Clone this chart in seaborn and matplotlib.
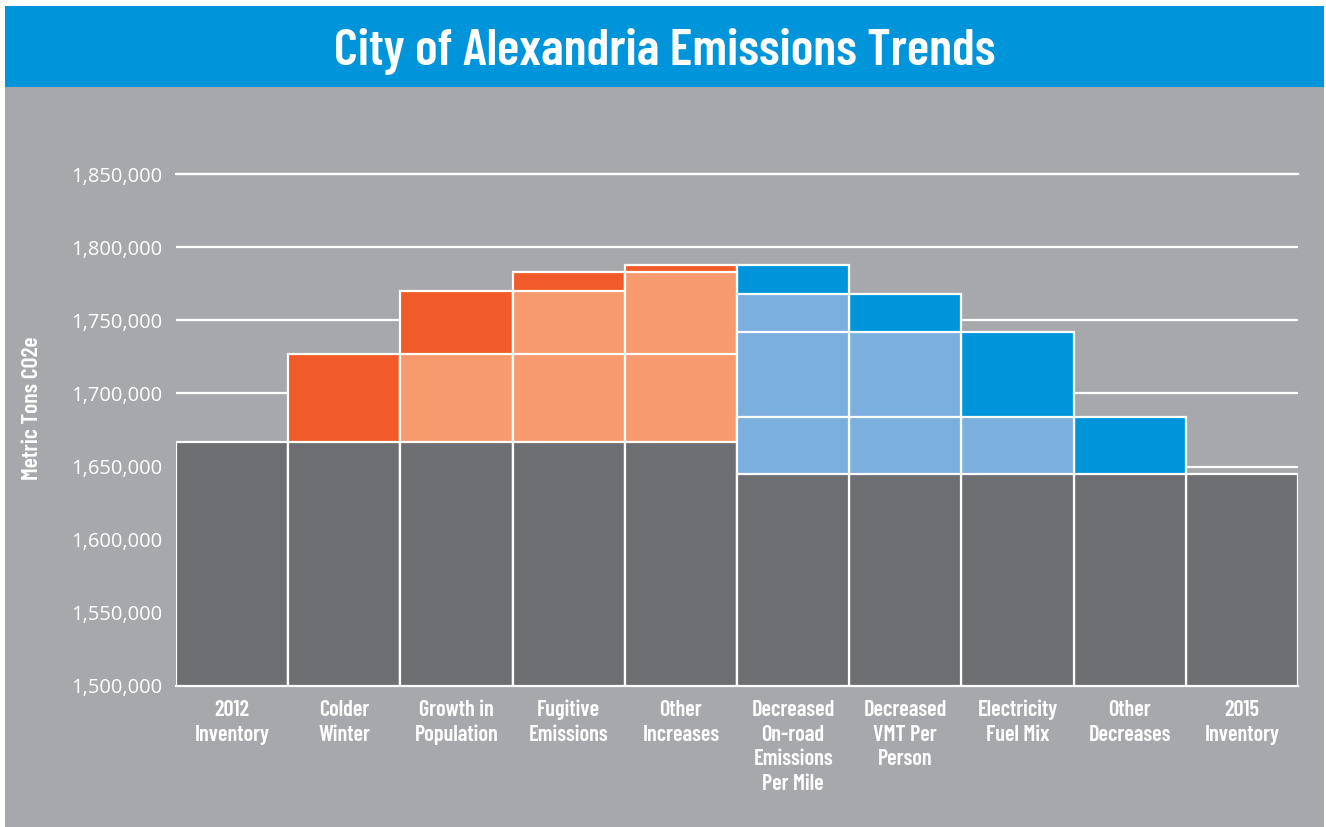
import numpy as np
import pandas as pd
import seaborn as sns
import matplotlib.pyplot as plt
from matplotlib import font_manager as fm
from matplotlib.patches import Rectangle

# data (metric tons CO2e)
categories = ["2012\nInventory", "Colder\nWinter", "Growth in\nPopulation", "Fugitive\nEmissions",
              "Other\nIncreases", "Decreased\nOn-road\nEmissions\nPer Mile", "Decreased\nVMT Per\nPerson",
              "Electricity\nFuel Mix", "Other\nDecreases", "2015\nInventory"]
inventory_2012 = 1_667_000
inventory_2015 = 1_645_000
# running total after each step
running_total = [1_667_000, 1_727_000, 1_770_000, 1_783_000, 1_788_000,
                 1_768_000, 1_742_000, 1_684_000, 1_645_000, 1_645_000]
# earlier steps shown again (lighter) inside each bar
light_tops = [[], [], [1_727_000], [1_770_000, 1_727_000], [1_783_000, 1_727_000],
              [1_768_000, 1_742_000, 1_684_000], [1_742_000, 1_684_000], [1_684_000], [], []]
yticks = [1_500_000, 1_550_000, 1_600_000, 1_650_000, 1_700_000, 1_750_000, 1_800_000, 1_850_000]

GRAY_BG = "#A7A8AB"
BASE = "#6D6E72"
ORANGE = "#F15A29"
ORANGE_LT = "#F79B6E"
BLUE = "#0095DA"
BLUE_LT = "#7BAFDE"

installed = {f.name for f in fm.fontManager.ttflist}
COND = next((f for f in ["Barlow Condensed", "Roboto Condensed", "Sofia Sans Condensed",
                         "Saira ExtraCondensed", "DejaVu Sans"] if f in installed))
TICKF = "Open Sans" if "Open Sans" in installed else "DejaVu Sans"

# build segments, one row per segment, rank 0 = topmost in a column
rows = []
for i, cat in enumerate(categories):
    segs = []
    if i == 0 or i == len(categories) - 1:
        segs.append((running_total[i], BASE))
    else:
        prev, cur = running_total[i - 1], running_total[i]
        up = cur > prev
        segs.append((max(prev, cur), ORANGE if up else BLUE))
        for t in light_tops[i]:
            segs.append((t, ORANGE_LT if up else BLUE_LT))
        segs.append((inventory_2012 if up else inventory_2015, BASE))
    for r, (top, col) in enumerate(segs):
        rows.append({"cat": cat, "top": top, "color": col, "rank": r})
df = pd.DataFrame(rows)

W, H = 1326, 827
fig = plt.figure(figsize=(W / 100, H / 100), dpi=100, facecolor="white")
fig.patches.append(Rectangle((5 / W, 0), 1319 / W, 1 - 87 / H, transform=fig.transFigure,
                             facecolor=GRAY_BG, edgecolor="none", zorder=-10))
fig.patches.append(Rectangle((5 / W, 1 - 87 / H), 1319 / W, 81 / H, transform=fig.transFigure,
                             facecolor=BLUE, edgecolor="none", zorder=-10))

ax = fig.add_axes([176 / W, 1 - 686 / H, (1298 - 176) / W, (686 - 169) / H])
ax.set_facecolor("none")

for r in sorted(df["rank"].unique()):
    sub = df[df["rank"] == r]
    sns.barplot(data=sub, x="cat", y="top", order=categories, hue="cat",
                palette=dict(zip(sub["cat"], sub["color"])), saturation=1, width=1,
                edgecolor="white", linewidth=1.6, legend=False, ax=ax, zorder=3)

ax.set_xlim(-0.5, len(categories) - 0.5)
ax.set_ylim(1_500_000, 1_853_500)
ax.set_yticks(yticks)
ax.set_yticklabels([f"{v:,}" for v in yticks], fontfamily=TICKF, fontsize=14.5, color="white")
ax.yaxis.grid(True, color="white", linewidth=1.6)
ax.set_axisbelow(True)
ax.axhline(1_500_000, color="white", linewidth=1.6, zorder=5, clip_on=False)
ax.axhline(1_850_000, color="white", linewidth=1.6, zorder=1, clip_on=False)
ax.tick_params(axis="y", length=0, pad=10)
ax.tick_params(axis="x", length=0, pad=10)
ax.set_xticks(range(len(categories)))
ax.set_xticklabels(categories, fontfamily=COND, fontweight="semibold",
                   fontsize=16, color="white", linespacing=1.3)
for s in ax.spines.values():
    s.set_visible(False)
ax.set_xlabel("")
ax.set_ylabel("")

# y axis title, centred on its spot in the reference
fig.text(32 / W, 1 - 408 / H, "Metric Tons CO2e", rotation=90, ha="center", va="center",
         fontfamily=COND, fontweight="semibold", fontsize=17, color="white")

fig.text(665 / W, 1 - 65 / H, "City of Alexandria Emissions Trends", ha="center", va="baseline",
         fontfamily=COND, fontweight="semibold", fontsize=37.5, color="white")

fig.savefig("out.png", dpi=100, facecolor="white")
